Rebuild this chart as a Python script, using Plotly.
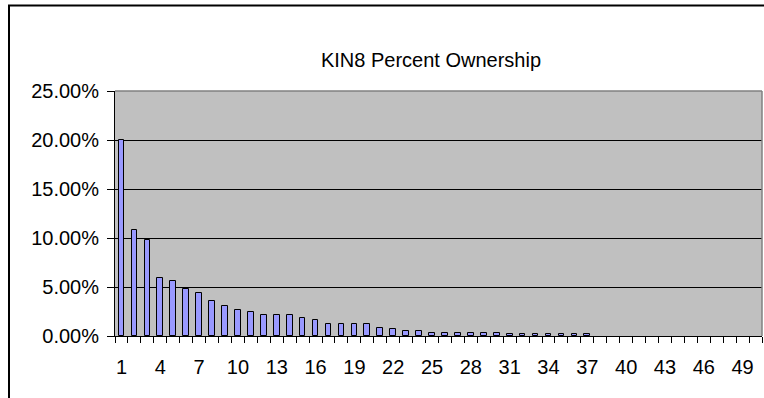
import plotly.graph_objects as go

# Shareholder rank and percent ownership (ranks 38-50 hold nothing)
ranks = list(range(1, 38))
ownership_pct = [
    20.00, 10.85, 9.83, 5.93, 5.59, 4.75, 4.41, 3.56, 3.08, 2.64,
    2.50, 2.17, 2.17, 2.17, 1.83, 1.66, 1.19, 1.19, 1.19, 1.19,
    0.85, 0.68, 0.51, 0.51, 0.34, 0.34, 0.34, 0.34, 0.34, 0.34,
    0.17, 0.17, 0.17, 0.17, 0.17, 0.17, 0.17,
]
rank_count = 50
x_tick_labels = [str(v) for v in range(1, rank_count + 1, 3)]
y_ticks = [0, 5, 10, 15, 20, 25]
title_text = "KIN8 Percent Ownership"

W, H = 764, 398
L, R, T, B = 115, 2, 91, 62
PW, PH = W - L - R, H - T - B

FONT = "Liberation Sans, Arial, sans-serif"


def px_to_paper_x(px):
    return (px - L) / PW


def px_to_paper_y(py):
    return (H - B - py) / PH


fig = go.Figure(
    go.Bar(
        x=ranks,
        y=ownership_pct,
        width=0.44,
        marker=dict(color="#9999FF", line=dict(color="black", width=1)),
    )
)

fig.update_layout(
    width=W,
    height=H,
    margin=dict(l=L, r=R, t=T, b=B, pad=0),
    paper_bgcolor="white",
    plot_bgcolor="#C0C0C0",
    showlegend=False,
    font=dict(family=FONT, size=20, color="black"),
    title=dict(
        text=title_text,
        x=431 / W,
        xanchor="center",
        y=1 - 60 / H,
        yanchor="middle",
        font=dict(family=FONT, size=20, color="black"),
    ),
    bargap=0,
)

fig.update_xaxes(
    range=[0.5, rank_count + 0.5],
    tickmode="array",
    tickvals=[int(v) for v in x_tick_labels],
    ticktext=x_tick_labels,
    ticks="",
    ticklabelstandoff=13,
    showgrid=False,
    zeroline=False,
    showline=True,
    linecolor="black",
    linewidth=1,
    minor=dict(
        tick0=0.5,
        dtick=1,
        ticks="outside",
        ticklen=6,
        tickwidth=1,
        tickcolor="black",
        showgrid=False,
    ),
)

fig.update_yaxes(
    range=[0, 25],
    tickmode="array",
    tickvals=y_ticks,
    ticktext=[f"{v:.2f}%" for v in y_ticks],
    ticks="outside",
    ticklen=7,
    tickcolor="black",
    ticklabelstandoff=4,
    showgrid=True,
    gridcolor="black",
    gridwidth=1,
    zeroline=False,
    showline=True,
    linecolor="black",
    linewidth=1,
)

# grey frame on the top and right of the plot area
fig.add_shape(
    type="line", xref="paper", yref="paper",
    x0=0, x1=1, y0=1, y1=1,
    line=dict(color="#808080", width=1.5),
)
fig.add_shape(
    type="line", xref="paper", yref="paper",
    x0=1, x1=1, y0=0, y1=1,
    line=dict(color="#808080", width=1.5),
)

# outer chart border
fig.add_shape(
    type="rect", xref="paper", yref="paper",
    x0=px_to_paper_x(9), x1=px_to_paper_x(W + 20),
    y0=px_to_paper_y(H + 20), y1=px_to_paper_y(5.5),
    line=dict(color="black", width=2),
    fillcolor="rgba(0,0,0,0)",
)

fig.write_html("out.html")
